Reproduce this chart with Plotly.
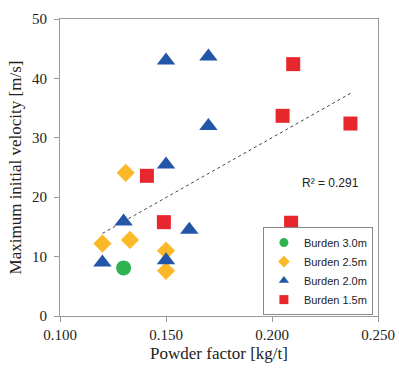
import plotly.graph_objects as go

b30_x = [0.130]
b30_y = [8.1]
b25_x = [0.120, 0.131, 0.133, 0.150, 0.150]
b25_y = [12.2, 24.1, 12.8, 11.0, 7.6]
b20_x = [0.120, 0.130, 0.150, 0.150, 0.150, 0.161, 0.170, 0.170]
b20_y = [9.0, 15.9, 43.0, 25.5, 9.4, 14.5, 43.7, 32.0]
b15_x = [0.141, 0.149, 0.210, 0.205, 0.237, 0.209]
b15_y = [23.6, 15.8, 42.4, 33.7, 32.4, 15.7]
trend_x = [0.120, 0.2376]
trend_y = [13.9, 37.6]
x_ticks = [0.100, 0.150, 0.200, 0.250]
y_ticks = [0, 10, 20, 30, 40, 50]
series_names = ["Burden 3.0m", "Burden 2.5m", "Burden 2.0m", "Burden 1.5m"]

colors = ["#2fb350", "#fbb829", "#2456a8", "#e8262d"]
symbols = ["circle", "diamond", "triangle-up", "square"]
sizes = [15, 14, 16, 14]
data = [(b30_x, b30_y), (b25_x, b25_y), (b20_x, b20_y), (b15_x, b15_y)]

fig = go.Figure()
fig.add_trace(go.Scatter(x=trend_x, y=trend_y, mode="lines",
                         line=dict(color="#444444", width=1, dash="dot"),
                         showlegend=False, hoverinfo="skip"))
for (xs, ys), nm, c, s, sz in zip(data, series_names, colors, symbols, sizes):
    fig.add_trace(go.Scatter(x=xs, y=ys, mode="markers", name=nm, showlegend=False,
                             marker=dict(symbol=s, size=sz, color=c)))
for nm, c, s in zip(series_names, colors, symbols):
    fig.add_trace(go.Scatter(x=[None], y=[None], mode="markers", name=nm,
                             marker=dict(symbol=s, size=9, color=c)))

fig.add_annotation(x=0.2274, y=22.4, text="R² = 0.291", showarrow=False,
                   font=dict(family="Liberation Sans, Arial", size=12, color="#222"))

serif = "Liberation Serif, Times New Roman, serif"
axis_font = dict(family=serif, size=15, color="#222")
fig.update_layout(
    width=399, height=369,
    margin=dict(l=60, r=21, t=19, b=53, autoexpand=False),
    paper_bgcolor="white", plot_bgcolor="white",
    showlegend=True,
    legend=dict(x=0.984, y=0.003, xanchor="right", yanchor="bottom",
                bordercolor="#888", borderwidth=1, bgcolor="white",
                font=dict(family="Liberation Sans, Arial", size=11, color="#222"),
                tracegroupgap=0, itemwidth=30),
    xaxis=dict(range=[0.100, 0.250], tickvals=x_ticks, tickformat=".3f",
               showgrid=False, zeroline=False, showline=True, linecolor="#999", linewidth=1,
               mirror=True, ticks="outside", ticklen=5, tickcolor="#999",
               tickfont=axis_font, automargin=False,
               title=dict(text="Powder factor [kg/t]", font=dict(family=serif, size=17, color="#222"), standoff=5)),
    yaxis=dict(range=[0, 50], tickvals=y_ticks,
               showgrid=False, zeroline=False, showline=True, linecolor="#999", linewidth=1,
               mirror=True, ticks="outside", ticklen=5, tickcolor="#999",
               tickfont=axis_font, automargin=False, ticklabelstandoff=4,
               title=dict(text="Maximum initial velocity [m/s]", font=dict(family=serif, size=17, color="#222"), standoff=6)),
)
fig.write_html("out.html", config={"displayModeBar": False},
               post_script="document.body.style.margin='0';document.body.style.overflow='hidden';")
